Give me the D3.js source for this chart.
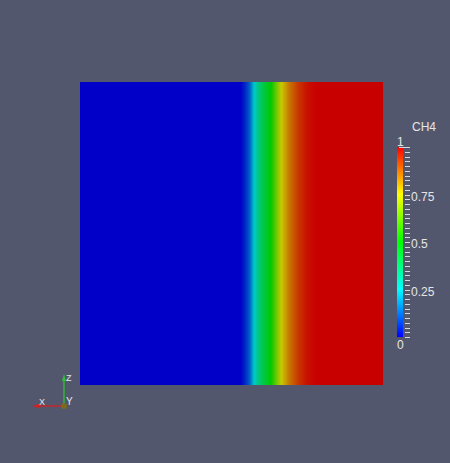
<!DOCTYPE html>
<html>
<head>
<meta charset="utf-8">
<script src="https://cdn.jsdelivr.net/npm/d3@7"></script>
<style>
  html, body { margin: 0; padding: 0; background: #52576e; }
  svg { display: block; }
  text { font-family: "Liberation Sans", Arial, sans-serif; fill: #e6e6e6; }
</style>
</head>
<body>
<svg id="chart"></svg>
<script>
// CH4 profile along x (domain 0..1)
const xPositions = [0, 0.53, 0.545, 0.56, 0.575, 0.59, 0.61, 0.63, 0.65, 0.665, 0.69, 0.72, 0.75, 0.78, 1];
const ch4Values  = [0, 0, 0.05, 0.12, 0.25, 0.35, 0.43, 0.5, 0.65, 0.75, 0.85, 0.93, 0.98, 1, 1];

// colour legend
const legendTitle = "CH4";
const legendTicks = [0, 0.25, 0.5, 0.75, 1];
const legendTickLabels = ["0", "0.25", "0.5", "0.75", "1"];

// orientation triad
const axisNames = ["X", "Y", "Z"];

const W = 450, H = 463;
const svg = d3.select("#chart").attr("width", W).attr("height", H);

// blue -> red rainbow (HSV style)
const colorMap = d3.scaleLinear()
  .domain([0, 0.25, 0.5, 0.75, 1])
  .range(["#0000ff", "#00ffff", "#00ff00", "#ffff00", "#ff0000"])
  .interpolate(d3.interpolateRgb)
  .clamp(true);

// surface is lit, so a bit darker than the legend
const shade = 0.785;
function litColor(v) {
  const c = d3.rgb(colorMap(v));
  return d3.rgb(c.r * shade, c.g * shade, c.b * shade).formatHex();
}

// plot square
const plot = { left: 80, top: 82, size: 303 };
const xScale = d3.scaleLinear().domain([0, 1]).range([plot.left, plot.left + plot.size]);
const profile = d3.scaleLinear().domain(xPositions).range(ch4Values).clamp(true);

const cols = d3.range(plot.left, plot.left + plot.size, 1);
svg.append("g")
  .selectAll("rect")
  .data(cols)
  .enter()
  .append("rect")
  .attr("x", (d) => d)
  .attr("y", plot.top)
  .attr("width", 1.05)
  .attr("height", plot.size)
  .attr("fill", (d) => litColor(profile(xScale.invert(d + 0.5))));

// legend bar
const bar = { x: 397, top: 147, bottom: 337, width: 6 };
const yLegend = d3.scaleLinear().domain([0, 1]).range([bar.bottom, bar.top]);
const barRows = d3.range(bar.top, bar.bottom, 1);
svg.append("g")
  .selectAll("rect")
  .data(barRows)
  .enter()
  .append("rect")
  .attr("x", bar.x)
  .attr("y", (d) => d)
  .attr("width", bar.width)
  .attr("height", 1.05)
  .attr("fill", (d) => colorMap(yLegend.invert(d + 0.5)));

// minor ticks every 0.025
const minorTicks = d3.range(0, 41).map((i) => i / 40);
svg.append("g")
  .selectAll("line")
  .data(minorTicks)
  .enter()
  .append("line")
  .attr("x1", bar.x + bar.width + 2)
  .attr("x2", bar.x + bar.width + 7)
  .attr("y1", (d) => Math.round(yLegend(d)) + 0.5)
  .attr("y2", (d) => Math.round(yLegend(d)) + 0.5)
  .attr("stroke", "#d8d8d8")
  .attr("stroke-width", 1);

// top line under the "1"
svg.append("line")
  .attr("x1", bar.x + 2).attr("x2", bar.x + bar.width + 7)
  .attr("y1", yLegend(1) + 0.5).attr("y2", yLegend(1) + 0.5)
  .attr("stroke", "#d8d8d8");

svg.append("text")
  .attr("x", 412).attr("y", 131)
  .attr("font-size", 12)
  .text(legendTitle);

svg.append("g")
  .selectAll("text")
  .data(legendTicks)
  .enter()
  .append("text")
  .attr("font-size", 12)
  .attr("x", (d) => (d === 0 || d === 1 ? bar.x : bar.x + bar.width + 8))
  .attr("y", (d) => {
    if (d === 1) return yLegend(d) - 1;
    if (d === 0) return yLegend(d) + 12;
    return yLegend(d) + 6;
  })
  .text((d, i) => legendTickLabels[i]);

// orientation triad
const origin = [64, 406];
const triad = svg.append("g");
triad.append("line")
  .attr("x1", origin[0]).attr("y1", origin[1])
  .attr("x2", origin[0]).attr("y2", 379)
  .attr("stroke", "#2ec22e").attr("stroke-width", 1.3);
triad.append("path")
  .attr("d", `M${origin[0] - 2},381 L${origin[0]},374 L${origin[0] + 2},381 Z`)
  .attr("fill", "#2ec22e");
triad.append("line")
  .attr("x1", origin[0]).attr("y1", origin[1])
  .attr("x2", 37).attr("y2", origin[1])
  .attr("stroke", "#d62020").attr("stroke-width", 1.3);
triad.append("path")
  .attr("d", `M39,${origin[1] - 2} L32,${origin[1]} L39,${origin[1] + 2} Z`)
  .attr("fill", "#d62020");
triad.append("circle")
  .attr("cx", origin[0]).attr("cy", origin[1]).attr("r", 3)
  .attr("fill", "#7a6a1e");

triad.append("text").attr("x", 39).attr("y", 405).attr("font-size", 9).text(axisNames[0]);
triad.append("text").attr("x", 66).attr("y", 405).attr("font-size", 10).text(axisNames[1]);
triad.append("text").attr("x", 66).attr("y", 381).attr("font-size", 9).text(axisNames[2]);
</script>
</body>
</html>
